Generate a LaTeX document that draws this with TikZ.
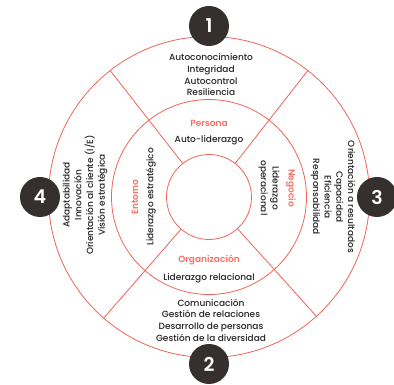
\documentclass[tikz,border=0pt]{standalone}
\usepackage{fontspec}
\setmainfont{Poppins}[UprightFont=* Medium, BoldFont=* SemiBold]
\usetikzlibrary{positioning}
\definecolor{coral}{RGB}{240,100,88}
\definecolor{salmon}{RGB}{244,112,100}
\definecolor{badgegray}{RGB}{53,48,46}
\definecolor{textgray}{RGB}{38,36,36}
\tikzset{
    ring/.style={circle, draw=coral, line width=0.8pt, inner sep=0pt, outer sep=0pt},
    divider/.style={draw=coral, line width=0.8pt},
    badge/.style={circle, fill=badgegray, minimum size=40pt, inner sep=0pt, text=white, font=\fontsize{19}{19}\selectfont\bfseries},
    heading/.style={text=salmon, inner sep=0pt, font=\fontsize{9}{11.7}\selectfont\bfseries},
    item/.style={align=center, text=textgray, inner sep=0pt, font=\fontsize{9}{11.7}\selectfont}
}
\begin{document}
\begin{tikzpicture}[x=1pt, y=1pt]
    \useasboundingbox (-209,-188) rectangle (185,197);
    % rings
    \node (outer) [ring, minimum size=321pt] at (0,0) {};
    \node (middle) [ring, minimum size=195pt] at (0,0) {};
    \node (inner) [ring, minimum size=85pt] at (0,0) {};
    \foreach \a in {52,128,229,312}
        \draw [divider] (inner.\a) -- (outer.\a);

    % inner ring
    \node (persona) [heading] at (0,74) {Persona};
    \node (autolid) [item, below=9pt of persona] {Auto-liderazgo};
    \node (organiz) [heading] at (0,-63) {Organización};
    \node (relacional) [item, below=8pt of organiz] {Liderazgo relacional};
    \node (negocio) [heading, rotate=-90] at (82,9) {Negocio};
    \node (operacional) [item, rotate=-90] at (60,9) {Liderazgo\\operacional};
    \node (entorno) [heading, rotate=90] at (-74,0) {Entorno};
    \node (estrategico) [item, rotate=90] at (-58,0) {Liderazgo estratégico};

    % outer ring
    \node (persona list) [item] at (2,122) {Autoconocimiento\\Integridad\\Autocontrol\\Resiliencia};
    \node (organiz list) [item] at (2,-123) {Comunicación\\Gestión de relaciones\\Desarrollo de personas\\Gestión de la diversidad};
    \node (negocio list) [item, rotate=-90] at (124,0) {Orientación a resultados\\Capacidad\\Eficiencia\\Responsabilidad};
    \node (entorno list) [item, rotate=90] at (-124,2) {Adaptabilidad\\Innovación\\Orientación al cliente (I/E)\\Visión estratégica};

    % badges
    \node (b1) [badge] at (90:171) {1};
    \node (b2) [badge] at (270:167) {2};
    \node (b3) [badge] at (0:168) {3};
    \node (b4) [badge] at (180:169) {4};
\end{tikzpicture}
\end{document}
